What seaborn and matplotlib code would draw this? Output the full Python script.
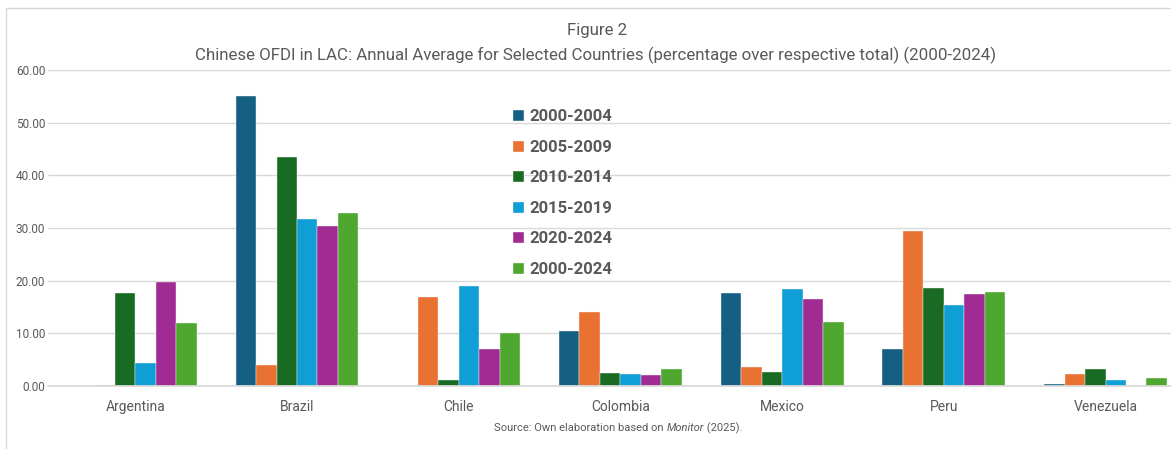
import numpy as np
import pandas as pd
import matplotlib.pyplot as plt
import seaborn as sns
from matplotlib.patches import Rectangle
from matplotlib.ticker import FuncFormatter

# data
countries = ["Argentina", "Brazil", "Chile", "Colombia", "Mexico", "Peru", "Venezuela"]
periods = ["2000-2004", "2005-2009", "2010-2014", "2015-2019", "2020-2024", "2000-2024"]
p2000_2004 = [0.0, 55.1, 0.0, 10.4, 17.6, 7.0, 0.4]
p2005_2009 = [0.1, 4.0, 16.9, 14.0, 3.6, 29.4, 2.2]
p2010_2014 = [17.6, 43.5, 1.1, 2.4, 2.6, 18.6, 3.2]
p2015_2019 = [4.3, 31.7, 19.0, 2.2, 18.5, 15.4, 1.2]
p2020_2024 = [19.8, 30.4, 7.0, 2.0, 16.5, 17.5, 0.0]
p2000_2024 = [12.0, 32.9, 10.1, 3.2, 12.2, 17.9, 1.6]
colors = ["#156082", "#E97132", "#196B24", "#0F9ED5", "#A02B93", "#4EA72E"]

series = [p2000_2004, p2005_2009, p2010_2014, p2015_2019, p2020_2024, p2000_2024]
rows = []
for period, vals in zip(periods, series):
    for c, v in zip(countries, vals):
        rows.append({"country": c, "period": period, "value": v})
df = pd.DataFrame(rows)

sns.set_theme(style="white")
plt.rcParams["font.family"] = ["Roboto", "DejaVu Sans"]
grey = "#595959"

W, H = 1171, 449
fig = plt.figure(figsize=(W / 100, H / 100), dpi=100)
ax = fig.add_axes([48 / W, 63 / H, (W - 48) / W, 316 / H])

sns.barplot(data=df, x="country", y="value", hue="period", order=countries,
            hue_order=periods, palette=colors, saturation=1, width=0.76, gap=0,
            errorbar=None, edgecolor="#F2F2F2", linewidth=0.3, ax=ax)

ax.set_xlim(-0.54, 6.405)
ax.set_ylim(0, 60)
ax.set_yticks(np.arange(0, 61, 10))
ax.yaxis.set_major_formatter(FuncFormatter(lambda v, p: f"{v:.2f}"))
ax.yaxis.grid(True, color="#D9D9D9", lw=1)
ax.set_axisbelow(True)
for s in ["top", "right", "left"]:
    ax.spines[s].set_visible(False)
ax.spines["bottom"].set_color("#D9D9D9")
ax.tick_params(axis="y", length=0, pad=2, labelsize=8.5, labelcolor=grey)
ax.tick_params(axis="x", length=0, pad=10, labelsize=10, labelcolor=grey)
ax.set_xlabel("")
ax.set_ylabel("")

ax.legend(loc="upper left", bbox_to_anchor=(0.414, 0.875), frameon=False,
          prop={"weight": "bold", "size": 12}, labelcolor=grey,
          handlelength=0.65, handleheight=0.65, handletextpad=0.35,
          labelspacing=0.93, borderpad=0, borderaxespad=0)

# titles
fig.text(597 / W, 1 - 31 / H, "Figure 2", ha="center", va="center", size=12.2, color=grey)
fig.text(596 / W, 1 - 55 / H,
         "Chinese OFDI in LAC: Annual Average for Selected Countries (percentage over respective total) (2000-2024)",
         ha="center", va="center", size=12.2, color=grey)

# source note with italic Monitor
fig.canvas.draw()
r = fig.canvas.get_renderer()
parts = [("Source: Own elaboration based on ", "normal"), ("Monitor", "italic"), (" (2025).", "normal")]
texts = []
for s, style in parts:
    t = fig.text(0, 1 - 428 / H, s, ha="left", va="center", size=8, color=grey, style=style)
    texts.append(t)
widths = [t.get_window_extent(r).width for t in texts]
x = 618 - sum(widths) / 2
for t, w in zip(texts, widths):
    t.set_x(x / W)
    x += w

# chart frame
fig.patches.append(Rectangle((6 / W, -0.1), 1.5, 1.1 - 8 / H, transform=fig.transFigure,
                             fill=False, edgecolor="#D9D9D9", lw=1))

fig.savefig("out.png", dpi=100)
